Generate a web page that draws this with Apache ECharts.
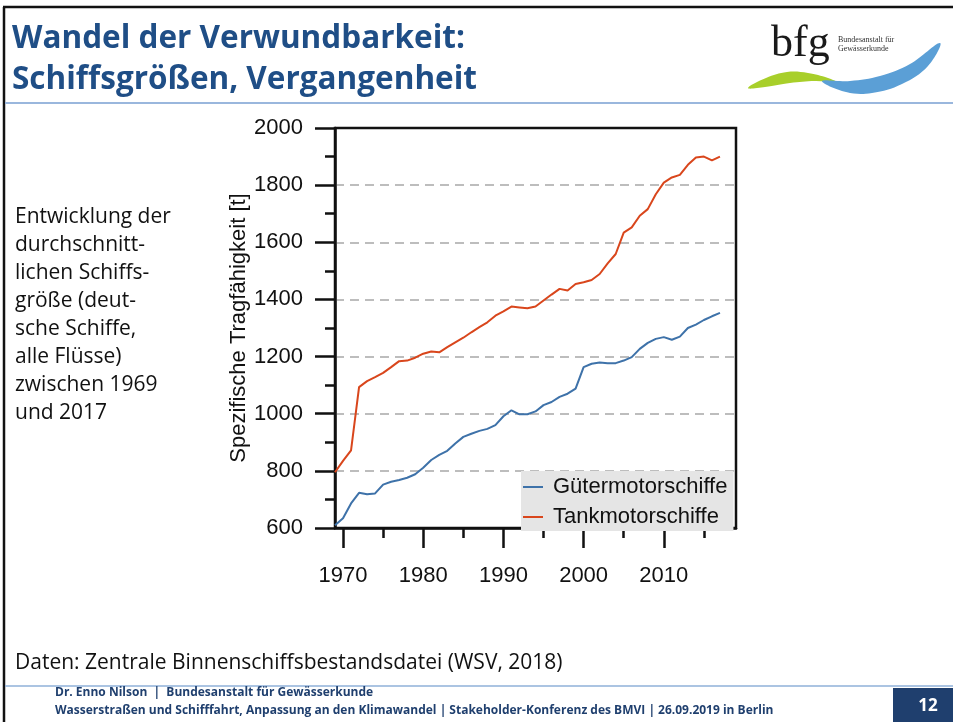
<!DOCTYPE html>
<html>
<head>
<meta charset="utf-8">
<script src="https://cdn.jsdelivr.net/npm/echarts@6/dist/echarts.min.js"></script>
<style>
  html, body { margin: 0; padding: 0; background: #fff; }
  #chart { width: 953px; height: 722px; }
</style>
</head>
<body>
<div id="chart"></div>
<script>
// jahre 1969 - 2017
var years = [];
for (var y = 1969; y <= 2017; y++) years.push(y);

var gueterValues = [
    610, 634, 686, 723, 718, 721, 752, 762, 768, 776,
    788, 811, 838, 856, 870, 896, 919, 930, 940, 947,
    960, 991, 1012, 998, 998, 1008, 1030, 1041, 1059, 1070,
    1088, 1163, 1175, 1179, 1177, 1177, 1186, 1198, 1227, 1248,
    1262, 1268, 1259, 1270, 1300, 1312, 1328, 1341, 1353
];
var tankValues = [
    795, 835, 872, 1093, 1114, 1128, 1143, 1163, 1184, 1186,
    1196, 1210, 1218, 1215, 1233, 1250, 1266, 1285, 1303, 1320,
    1343, 1358, 1375, 1372, 1369, 1375, 1396, 1417, 1437, 1431,
    1454, 1460, 1468, 1489, 1526, 1559, 1634, 1652, 1693, 1716,
    1768, 1809, 1827, 1836, 1871, 1897, 1900, 1887, 1900
];
var seriesNames = ['Gütermotorschiffe', 'Tankmotorschiffe'];
var xMajorTicks = [1970, 1980, 1990, 2000, 2010];
var xMinorTicks = [1975, 1985, 1995, 2005, 2015];

var chart = echarts.init(document.getElementById('chart'));

function pairs(vals) {
    return years.map(function (yr, i) { return [yr, vals[i]]; });
}

var axisFont = 'Liberation Sans';
var black = '#111';

var option = {
    animation: false,
    backgroundColor: '#fff',
    grid: {
        left: 335,
        top: 128,
        width: 401,
        height: 400,
        show: true,
        borderColor: black,
        borderWidth: 2.5
    },
    legend: {
        orient: 'vertical',
        left: 521,
        top: 471,
        backgroundColor: '#e5e5e5',
        borderRadius: 0,
        padding: [5, 6, 3, 2],
        itemGap: 8,
        itemWidth: 20,
        itemHeight: 2,
        icon: 'rect',
        textStyle: {
            fontFamily: axisFont,
            fontSize: 22,
            color: black,
            lineHeight: 22,
            padding: [0, 0, 0, 5]
        },
        data: seriesNames
    },
    xAxis: [
        {
            type: 'value',
            min: 1969,
            max: 2019,
            splitLine: { show: false },
            axisLine: { lineStyle: { color: black, width: 2.5 } },
            axisTick: {
                customValues: xMajorTicks,
                length: 20,
                lineStyle: { color: black, width: 2.5 }
            },
            axisLabel: {
                customValues: xMajorTicks,
                formatter: function (v) { return String(v); },
                margin: 37,
                fontFamily: axisFont,
                fontSize: 22,
                color: black
            }
        },
        {
            type: 'value',
            position: 'bottom',
            min: 1969,
            max: 2019,
            splitLine: { show: false },
            axisLine: { show: false },
            axisTick: {
                customValues: xMinorTicks,
                length: 10,
                lineStyle: { color: black, width: 2.5 }
            },
            axisLabel: { show: false }
        }
    ],
    yAxis: {
        type: 'value',
        min: 600,
        max: 2000,
        interval: 200,
        name: 'Spezifische Tragfähigkeit [t]',
        nameLocation: 'middle',
        nameGap: 82,
        nameTextStyle: {
            fontFamily: axisFont,
            fontSize: 22,
            color: black
        },
        axisLine: { show: true, lineStyle: { color: black, width: 2.5 } },
        axisTick: { length: 20, lineStyle: { color: black, width: 2.5 } },
        minorTick: { show: true, splitNumber: 2, length: 10, lineStyle: { color: black, width: 2.5 } },
        axisLabel: {
            formatter: function (v) { return String(v); },
            margin: 32,
            fontFamily: axisFont,
            fontSize: 22,
            color: black
        },
        splitLine: {
            show: true,
            showMinLine: false,
            showMaxLine: false,
            lineStyle: { color: '#bdbdbd', width: 2, type: [9, 6] }
        }
    },
    series: [
        {
            name: seriesNames[0],
            type: 'line',
            data: pairs(gueterValues),
            symbol: 'none',
            showSymbol: false,
            lineStyle: { color: '#3e72a9', width: 2 },
            itemStyle: { color: '#3e72a9' }
        },
        {
            name: seriesNames[1],
            type: 'line',
            data: pairs(tankValues),
            symbol: 'none',
            showSymbol: false,
            lineStyle: { color: '#d9461c', width: 2 },
            itemStyle: { color: '#d9461c' }
        }
    ],
    graphic: [
        // rahmen
        { type: 'line', shape: { x1: 3, y1: 7, x2: 953, y2: 7 }, style: { stroke: black, lineWidth: 2.5 } },
        { type: 'line', shape: { x1: 4, y1: 7, x2: 4, y2: 722 }, style: { stroke: black, lineWidth: 2.5 } },
        { type: 'line', shape: { x1: 5, y1: 103, x2: 953, y2: 103 }, style: { stroke: '#9ab7dd', lineWidth: 2 } },
        { type: 'line', shape: { x1: 5, y1: 686, x2: 953, y2: 686 }, style: { stroke: '#8fb0d8', lineWidth: 1.5 } },
        // titel
        {
            type: 'text', left: 12, top: 19,
            style: {
                text: 'Wandel der Verwundbarkeit:\nSchiffsgrößen, Vergangenheit',
                font: 'bold 31.5px "Open Sans"', lineHeight: 41, fill: '#1f4e86'
            }
        },
        // logo
        {
            type: 'text', left: 771, top: 22,
            style: { text: 'bfg', font: '44px "Liberation Serif"', fill: '#1a1a1a' }
        },
        {
            type: 'text', left: 838, top: 35,
            style: { text: 'Bundesanstalt für\nGewässerkunde', font: '8px "Liberation Serif"', lineHeight: 9, fill: '#333' }
        },
        {
            type: 'polygon',
            shape: {
                points: [[748, 88], [766, 78], [787, 72], [808, 73], [828, 78], [836, 82], [815, 81], [790, 83], [765, 87]],
                smooth: 0.4
            },
            style: { fill: '#a8cf2a' }
        },
        {
            type: 'polygon',
            shape: {
                points: [[822, 81], [850, 81], [880, 76], [910, 64], [940, 43], [928, 66], [902, 84], [872, 93], [846, 92]],
                smooth: 0.4
            },
            style: { fill: '#5b9fd6' }
        },
        // beschreibung
        {
            type: 'text', left: 15, top: 203,
            style: {
                text: 'Entwicklung der\ndurchschnitt-\nlichen Schiffs-\ngröße (deut-\nsche Schiffe,\nalle Flüsse)\nzwischen 1969\nund 2017',
                font: '21px "Open Sans"', lineHeight: 28, fill: '#111'
            }
        },
        {
            type: 'text', left: 15, top: 653,
            style: {
                text: 'Daten: Zentrale Binnenschiffsbestandsdatei (WSV, 2018)',
                font: '21px "Open Sans"', fill: '#111'
            }
        },
        // fusszeile
        {
            type: 'text', left: 55, top: 684,
            style: {
                text: 'Dr. Enno Nilson  |  Bundesanstalt für Gewässerkunde\nWasserstraßen und Schifffahrt, Anpassung an den Klimawandel | Stakeholder-Konferenz des BMVI | 26.09.2019 in Berlin',
                font: 'bold 12px "Open Sans"', lineHeight: 18, fill: '#1f3f6e'
            }
        },
        { type: 'rect', shape: { x: 893, y: 688, width: 60, height: 34 }, style: { fill: '#1f3f6e' } },
        {
            type: 'text', x: 928, y: 706,
            style: { text: '12', font: 'bold 17px "Open Sans"', fill: '#fff', align: 'center', verticalAlign: 'middle' }
        }
    ]
};

chart.setOption(option);
</script>
</body>
</html>
